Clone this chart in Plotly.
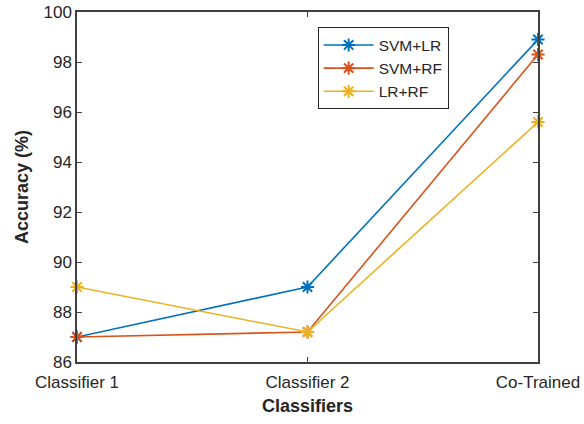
import plotly.graph_objects as go

categories = ["Classifier 1", "Classifier 2", "Co-Trained"]
svm_lr = [87.0, 89.0, 98.9]
svm_rf = [87.0, 87.2, 98.3]
lr_rf = [89.0, 87.2, 95.6]
series_names = ["SVM+LR", "SVM+RF", "LR+RF"]
colors = ["#0072BD", "#D95319", "#EDB120"]
y_ticks = [86, 88, 90, 92, 94, 96, 98, 100]

fig = go.Figure()
for name, vals, col in zip(series_names, [svm_lr, svm_rf, lr_rf], colors):
    fig.add_trace(go.Scatter(
        x=categories, y=vals, name=name, mode="lines+markers",
        line=dict(color=col, width=1.6),
        marker=dict(symbol="asterisk-open", size=11, color=col, line=dict(color=col, width=2)),
        cliponaxis=False,
    ))

font = "Liberation Sans, Arial, sans-serif"
fig.update_layout(
    width=584, height=424,
    margin=dict(l=77, r=46, t=12, b=62),
    paper_bgcolor="white", plot_bgcolor="white",
    font=dict(family=font, size=17, color="#262626"),
    showlegend=True,
    legend=dict(
        x=0.522, y=0.956, xanchor="left", yanchor="top",
        bordercolor="#262626", borderwidth=1, bgcolor="white",
        font=dict(size=15.5, color="#262626"),
        tracegroupgap=0, itemwidth=50,
    ),
    xaxis=dict(
        type="category", range=[0, 2], automargin=False,
        showline=True, linecolor="#404040", linewidth=1.5, mirror="ticks",
        ticks="inside", ticklen=5, tickcolor="#404040",
        showgrid=False, zeroline=False, ticklabelstandoff=4,
        title=dict(text="<b>Classifiers</b>", font=dict(size=18), standoff=8),
    ),
    yaxis=dict(
        range=[86, 100], tickvals=y_ticks, automargin=False,
        showline=True, linecolor="#404040", linewidth=1.5, mirror="ticks",
        ticks="inside", ticklen=5, tickcolor="#404040",
        showgrid=False, zeroline=False,
        title=dict(text="<b>Accuracy (%)</b>", font=dict(size=18), standoff=10),
    ),
)

fig.write_html("out.html")
